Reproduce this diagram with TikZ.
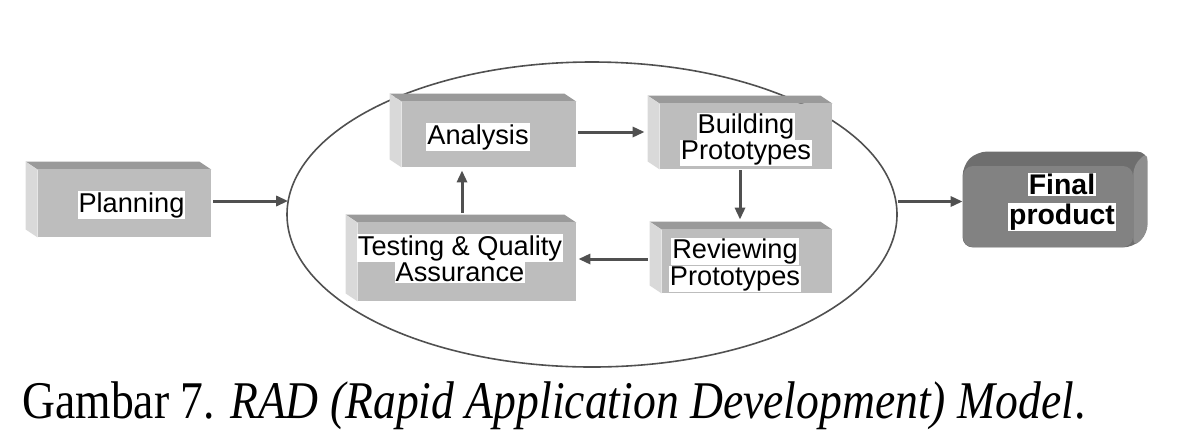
\documentclass[tikz,border=0pt]{standalone}
\usepackage{fontspec}
\setmainfont{Liberation Serif}
\newfontfamily\arialfont{Liberation Sans}
\usetikzlibrary{arrows.meta,shapes.geometric,backgrounds}

\definecolor{facegray}{HTML}{BDBDBD}
\definecolor{topgray}{HTML}{9A9A9A}
\definecolor{sidegray}{HTML}{D9D9D9}
\definecolor{endgray}{HTML}{828282}
\definecolor{endtop}{HTML}{6E6E6E}
\definecolor{endside}{HTML}{8E8E8E}
\definecolor{linegray}{HTML}{505050}

\newcommand{\wl}[1]{{\setlength{\fboxsep}{0.5pt}\colorbox{white}{#1}}}
% top and left faces of a block
\newcommand{\bevel}[1]{%
  \fill[topgray] (#1.north west) -- ++(-12,-8) -- ([shift={(-12,-8)}]#1.north east) -- (#1.north east) -- cycle;
  \fill[sidegray] (#1.north west) -- ++(-12,-8) -- ([shift={(-12,-8)}]#1.south west) -- (#1.south west) -- cycle;}

\begin{document}
\begin{tikzpicture}[x=0.5pt,y=-0.5pt,
            block/.style = {rectangle,
                fill = facegray,
                inner sep = 0pt,
                },
            tag/.style = {inner sep = 0pt,
                align = center,
                font = \arialfont\fontsize{13.6}{13.2}\selectfont,
                },
            flow/.style = {draw = linegray,
                line width = 1.5pt,
                -{Triangle[length=6pt,width=5pt]},
                }]

        \useasboundingbox (0,0) rectangle (1182,430);

        % Cycle
        \node[ellipse,draw=linegray,line width=0.8pt,
              minimum width=305pt,minimum height=152.5pt] (cycle) at (592,214.5) {};

        % Planning
        \node[block,minimum width=86.5pt,minimum height=33.5pt] (plan) at (124.5,203.5) {};
        \bevel{plan}
        \node[tag] (plan-t) at ([shift={(7,1.5)}]plan.center) {\wl{Planning}};

        % Analysis
        \node[block,minimum width=87pt,minimum height=32.5pt] (ana) at (489,134.5) {};
        \bevel{ana}
        \node[tag] (ana-t) at ([shift={(-11,2.5)}]ana.center) {\wl{Analysis}};

        % Building Prototypes
        \node[block,minimum width=86pt,minimum height=32.5pt] (build) at (746,136.5) {};
        \bevel{build}
        \node[tag] (build-t) at ([shift={(0,3)}]build.center) {\wl{Building}\\\wl{Prototypes}};

        % Reviewing Prototypes
        \node[block,minimum width=85pt,minimum height=31.5pt] (rev) at (747,261.5) {};
        \bevel{rev}
        \node[tag] (rev-t) at ([shift={(-12,3.5)}]rev.center) {\wl{Reviewing}\\\wl{Prototypes}};

        % Testing & Quality Assurance
        \node[block,minimum width=109pt,minimum height=39pt] (test) at (467,262) {};
        \bevel{test}
        \node[tag] (test-t) at ([shift={(-7,-3.5)}]test.center) {\wl{Testing \& Quality}\\\wl{Assurance}};

        % Final product
        \node[block,rounded corners=5pt,fill=endgray,minimum width=85pt,minimum height=40.5pt] (final) at (1048,206.5) {};
        \node[tag,font=\arialfont\bfseries\fontsize{14.2}{15}\selectfont] (final-t) at ([shift={(14,-4.5)}]final.center) {\wl{Final}\\\wl{product}};
        \begin{scope}[on background layer]
            \fill[endtop,rounded corners=5pt] (final.south west) -- (final.north west) -- ++(14,-14)
                -- ([shift={(14,-14)}]final.north east) -- ([shift={(14,-14)}]final.south east) -- (final.south east) -- cycle;
            \fill[endside,rounded corners=4pt] (final.north east) -- ([shift={(14,-14)}]final.north east)
                -- ([shift={(14,-14)}]final.south east) -- (final.south east) -- cycle;
        \end{scope}

        % Arrows
        \draw[flow] ([shift={(2,-2.5)}]plan.east) -- ([shift={(2,-2.5)}]plan.east -| cycle.west);
        \draw[flow] ([shift={(2,-2.5)}]ana.east) -- ([shift={(-15,-2.5)}]ana.east -| build.west);
        \draw[flow] ([shift={(-6,1)}]build.south) -- ([shift={(-6,-10)}]build.south |- rev.north);
        \draw[flow] ([shift={(-14,-2.5)}]rev.west) -- ([shift={(2,-2.5)}]rev.west -| test.east);
        \draw[flow] ([shift={(-5,-10)}]test.north) -- ([shift={(-5,3)}]test.north |- ana.south);
        \draw[flow] ([yshift=2.5pt]cycle.east |- final.west) -- ([yshift=2.5pt]final.west);

        % Caption
        \node[anchor=base west,inner sep=0pt,font=\fontsize{26.5}{30}\selectfont] (caption) at (22,418)
            {\resizebox{531.5pt}{\height}{Gambar 7. \textit{RAD (Rapid Application Development) Model}.}};

\end{tikzpicture}
\end{document}
